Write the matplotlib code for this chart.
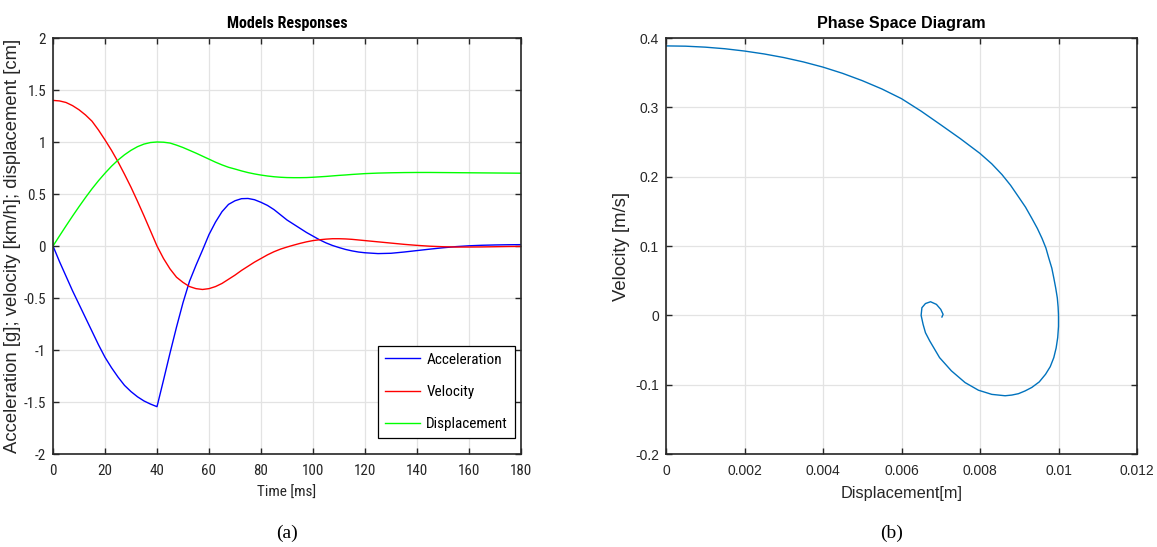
import matplotlib
matplotlib.use("Agg")
import matplotlib.pyplot as plt
from matplotlib import font_manager

# ---- data ----
t_ms = [0, 2.5, 5, 7.5, 10, 12.5, 15, 17.5, 20, 22.5, 25, 27.5, 30, 32.5, 35, 37.5,
        40, 42.5, 45, 47.5, 50, 52.5, 55, 57.5, 60, 62.5, 65, 67.5, 70, 72.5, 75,
        77.5, 80, 82.5, 85, 87.5, 90, 92.5, 95, 97.5, 100, 102.5, 105, 107.5, 110,
        112.5, 115, 117.5, 120, 125, 130, 135, 140, 145, 150, 155, 160, 165, 170,
        175, 180]
accel_g = [0, -0.15, -0.29, -0.43, -0.56, -0.69, -0.82, -0.95, -1.07, -1.17, -1.26,
           -1.34, -1.40, -1.45, -1.49, -1.52, -1.545, -1.29, -1.03, -0.78, -0.545,
           -0.34, -0.185, -0.04, 0.11, 0.23, 0.33, 0.40, 0.435, 0.455, 0.457, 0.445,
           0.42, 0.39, 0.35, 0.30, 0.25, 0.21, 0.17, 0.13, 0.095, 0.06, 0.03, 0.005,
           -0.015, -0.033, -0.047, -0.058, -0.065, -0.073, -0.07, -0.058, -0.044,
           -0.03, -0.017, -0.006, 0.002, 0.007, 0.01, 0.012, 0.013]
vel_kmh = [1.40, 1.395, 1.38, 1.35, 1.31, 1.26, 1.20, 1.115, 1.02, 0.92, 0.81, 0.69,
           0.565, 0.43, 0.29, 0.145, 0.0, -0.12, -0.22, -0.30, -0.35, -0.39, -0.41,
           -0.418, -0.41, -0.39, -0.36, -0.32, -0.28, -0.235, -0.195, -0.155, -0.12,
           -0.085, -0.055, -0.03, -0.01, 0.008, 0.025, 0.04, 0.052, 0.06, 0.066, 0.07,
           0.07, 0.068, 0.064, 0.058, 0.052, 0.04, 0.028, 0.016, 0.006, -0.002,
           -0.007, -0.01, -0.01, -0.009, -0.007, -0.005, -0.004]
disp_cm = [0, 0.097, 0.193, 0.287, 0.378, 0.466, 0.55, 0.628, 0.70, 0.767, 0.826,
           0.877, 0.92, 0.955, 0.98, 0.995, 1.0, 0.998, 0.99, 0.97, 0.947, 0.92, 0.893,
           0.864, 0.835, 0.806, 0.78, 0.757, 0.74, 0.722, 0.706, 0.693, 0.682, 0.673,
           0.666, 0.661, 0.658, 0.657, 0.657, 0.658, 0.661, 0.665, 0.669, 0.674, 0.679,
           0.683, 0.688, 0.692, 0.696, 0.701, 0.704, 0.706, 0.707, 0.707, 0.706, 0.705,
           0.704, 0.703, 0.702, 0.701, 0.70]

phase_x = [0, 0.0005, 0.001, 0.0015, 0.002, 0.0025, 0.003, 0.0035, 0.004, 0.0045,
           0.005, 0.0055, 0.006, 0.0065, 0.007, 0.0075, 0.008, 0.0083, 0.00856,
           0.00878, 0.00898, 0.00916, 0.00932, 0.00946, 0.00958, 0.00968, 0.00975,
           0.00983, 0.00988, 0.00993, 0.00997, 0.00999, 0.0100, 0.01, 0.00998,
           0.00994, 0.00988, 0.00979, 0.00967, 0.00951, 0.00932, 0.00915, 0.00898,
           0.00881, 0.00864, 0.0083, 0.00796, 0.00762, 0.00727, 0.00697, 0.00672,
           0.00661, 0.00655, 0.0065, 0.00652, 0.00661, 0.00674, 0.00689, 0.0070,
           0.00706, 0.00703]
phase_v = [0.3886, 0.3882, 0.3868, 0.3845, 0.3812, 0.3770, 0.3718, 0.3655, 0.358,
           0.349, 0.3385, 0.3265, 0.3125, 0.2945, 0.2748, 0.2548, 0.2335, 0.2185, 0.203,
           0.1875, 0.171, 0.156, 0.140, 0.1255, 0.111, 0.097, 0.083, 0.068, 0.054,
           0.039, 0.025, 0.012, 0.0, -0.016, -0.032, -0.047, -0.061, -0.074, -0.085,
           -0.096, -0.104, -0.109, -0.113, -0.115, -0.116, -0.114, -0.108, -0.097,
           -0.080, -0.061, -0.037, -0.025, -0.013, 0.0, 0.011, 0.017, 0.0196, 0.0158,
           0.0086, 0.0014, -0.0024]

# narrow font for panel (a) if one is installed
have = {f.name for f in font_manager.fontManager.ttflist}
narrow = [f for f in ['Liberation Sans Narrow', 'Arial Narrow', 'DejaVu Sans Condensed',
                      'Roboto Condensed'] if f in have] + ['Liberation Sans', 'DejaVu Sans']
arial = ['Liberation Sans', 'DejaVu Sans']
tc = '#262626'

fig = plt.figure(figsize=(11.57, 5.47), dpi=100)
ax1 = fig.add_axes([53/1157, 1-454/547, 468/1157, 416/547])
ax2 = fig.add_axes([666/1157, 1-454/547, 471/1157, 416/547])


def style(ax, fam, fs):
    ax.grid(True, color='#e3e3e3', linewidth=0.9)
    ax.set_axisbelow(True)
    ax.tick_params(direction='in', top=True, right=True, length=4, width=1,
                   colors=tc, labelsize=fs)
    ax.tick_params(axis='x', pad=7)
    ax.tick_params(axis='y', pad=5)
    for lab in ax.get_xticklabels() + ax.get_yticklabels():
        lab.set_family(fam)
    for s in ax.spines.values():
        s.set_color(tc)
        s.set_linewidth(1.2)


# ---- (a) responses ----
ax1.plot(t_ms, accel_g, color='#0000ff', lw=1.0, label='Acceleration')
ax1.plot(t_ms, vel_kmh, color='#ff0000', lw=1.0, label='Velocity')
ax1.plot(t_ms, disp_cm, color='#00ff00', lw=1.0, label='Displacement')
ax1.set_xlim(0, 180)
ax1.set_ylim(-2, 2)
ax1.set_xticks(range(0, 181, 20))
yt = [-2, -1.5, -1, -0.5, 0, 0.5, 1, 1.5, 2]
ax1.set_yticks(yt)
ax1.set_yticklabels([('%g' % v) for v in yt])
style(ax1, narrow, 10.8)
ax1.set_title('Models Responses', family=narrow, fontsize=11.5, fontweight='bold',
              color='black', pad=7)
ax1.set_xlabel('Time [ms]', family=narrow, fontsize=11, color=tc, labelpad=6)
ax1.set_ylabel('Acceleration [g]; velocity [km/h]; displacement [cm]', family=arial,
               fontsize=13.3, color=tc, labelpad=2)
leg = ax1.legend(loc='lower right', bbox_to_anchor=(0.987, 0.038), borderaxespad=0,
                 fancybox=False, edgecolor='black', framealpha=1, handlelength=2.3,
                 handletextpad=0.4, prop={'family': narrow, 'size': 11},
                 borderpad=0.45, labelspacing=1.2)
leg.get_frame().set_linewidth(0.9)

# ---- (b) phase space ----
ax2.plot(phase_x, phase_v, color='#0072bd', lw=1.0)
ax2.set_xlim(0, 0.012)
ax2.set_ylim(-0.2, 0.4)
xt = [0, 0.002, 0.004, 0.006, 0.008, 0.01, 0.012]
ax2.set_xticks(xt)
ax2.set_xticklabels([('%g' % v) for v in xt])
yt2 = [-0.2, -0.1, 0, 0.1, 0.2, 0.3, 0.4]
ax2.set_yticks(yt2)
ax2.set_yticklabels([('%g' % v) for v in yt2])
style(ax2, arial, 10)
ax2.set_title('Phase Space Diagram', family=arial, fontsize=11.6, fontweight='bold',
              color='black', pad=7)
ax2.set_xlabel('Displacement[m]', family=arial, fontsize=11.8, color=tc, labelpad=6)
ax2.set_ylabel('Velocity [m/s]', family=arial, fontsize=13.3, color=tc, labelpad=4)

fig.text(287/1157, 1-533/547, '(a)', family=['Liberation Serif', 'DejaVu Serif'],
         fontsize=14, ha='center', va='center')
fig.text(892/1157, 1-533/547, '(b)', family=['Liberation Serif', 'DejaVu Serif'],
         fontsize=14, ha='center', va='center')

fig.savefig('out.png', dpi=100)
